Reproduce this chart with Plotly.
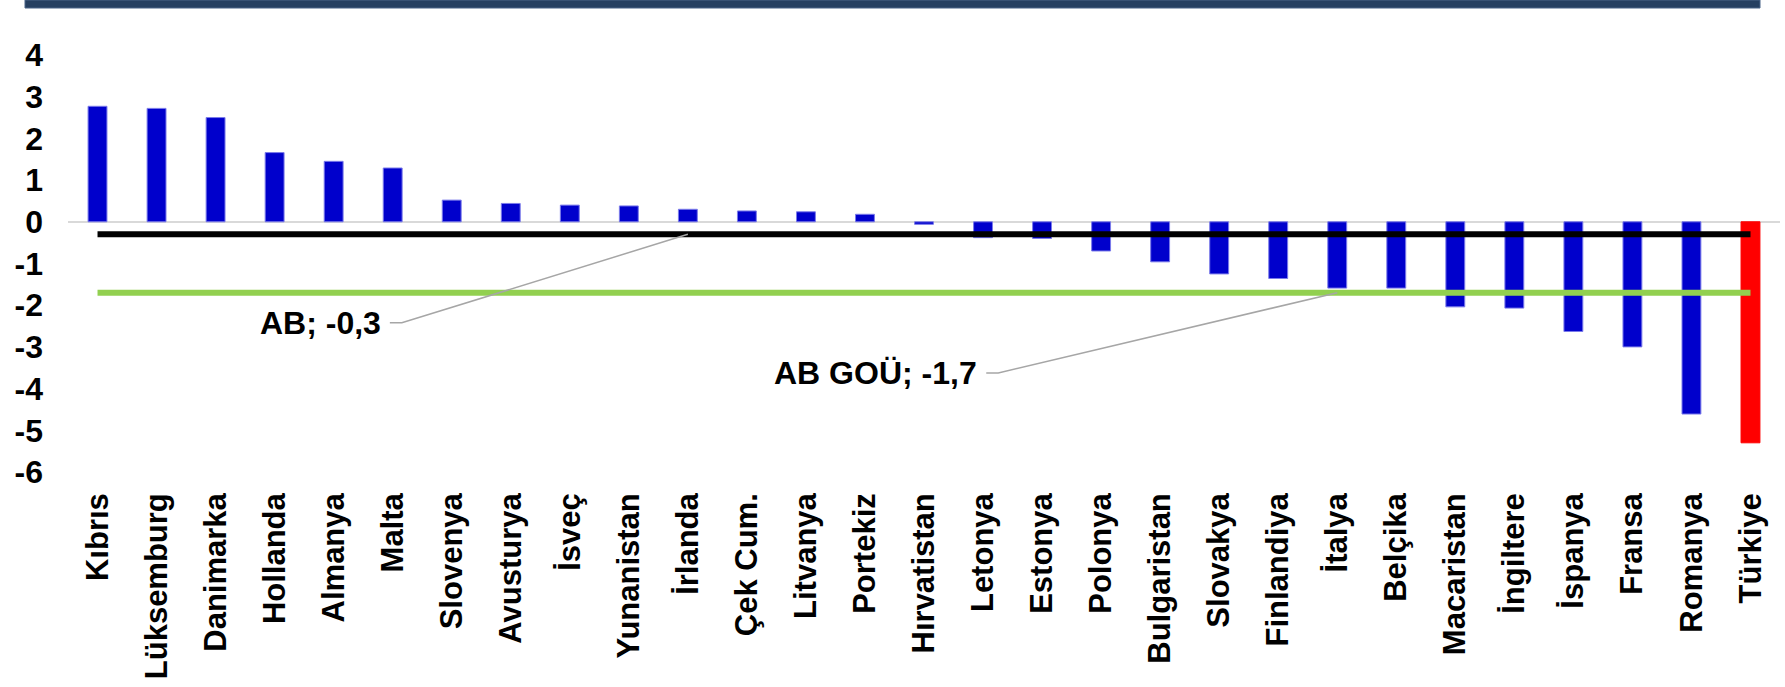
import plotly.graph_objects as go

# ---- data ----
countries = ["Kıbrıs", "Lüksemburg", "Danimarka", "Hollanda", "Almanya", "Malta",
             "Slovenya", "Avusturya", "İsveç", "Yunanistan", "İrlanda", "Çek Cum.",
             "Litvanya", "Portekiz", "Hırvatistan", "Letonya", "Estonya", "Polonya",
             "Bulgaristan", "Slovakya", "Finlandiya", "İtalya", "Belçika", "Macaristan",
             "İngiltere", "İspanya", "Fransa", "Romanya", "Türkiye"]
values = [2.77, 2.72, 2.50, 1.66, 1.45, 1.29,
          0.52, 0.44, 0.40, 0.38, 0.30, 0.26,
          0.24, 0.18, -0.06, -0.38, -0.40, -0.70,
          -0.96, -1.25, -1.36, -1.59, -1.59, -2.04,
          -2.07, -2.63, -3.00, -4.61, -5.30]
ab_value = -0.3        # AB
ab_gou_value = -1.7    # AB GOÜ
highlight = "Türkiye"
y_ticks = [4, 3, 2, 1, 0, -1, -2, -3, -4, -5, -6]

# ---- styling ----
W, H = 1785, 687
ML, MR, MT, MB = 68, 5, 55, 215
PW, PH = W - ML - MR, H - MT - MB
FONT = "Liberation Sans, Arial, sans-serif"
BLUE, RED = "#0000CC", "#FF0000"

bar_colors = [RED if c == highlight else BLUE for c in countries]
bar_lines = ["#FF0000" if c == highlight else "#7B7BEA" for c in countries]

fig = go.Figure()
fig.add_trace(go.Bar(x=countries, y=values, width=0.32,
                     marker=dict(color=bar_colors, line=dict(color=bar_lines, width=1)),
                     hoverinfo="x+y"))
fig.add_trace(go.Scatter(x=countries, y=[ab_value] * len(countries), mode="lines",
                         line=dict(color="#000000", width=6), name="AB"))
fig.add_trace(go.Scatter(x=countries, y=[ab_gou_value] * len(countries), mode="lines",
                         line=dict(color="#92D050", width=6), name="AB GOÜ"))

def px_to_paper_x(px):
    return (px - ML) / PW

def px_to_paper_y(py):
    return (H - MB - py) / PH

shapes = [
    # header band
    dict(type="rect", xref="paper", yref="paper",
         x0=px_to_paper_x(25), x1=px_to_paper_x(1760),
         y0=px_to_paper_y(8), y1=px_to_paper_y(0),
         fillcolor="#264061", line=dict(color="#4A6488", width=1), layer="above"),
    # leader lines (pixel offsets from the data point)
    dict(type="path", xref="x", yref="y", xsizemode="pixel", ysizemode="pixel",
         xanchor=countries.index("İrlanda"), yanchor=ab_value,
         path="M0,0 L-286,-88.5 L-298,-88.5",
         line=dict(color="#A6A6A6", width=1.5)),
    dict(type="path", xref="x", yref="y", xsizemode="pixel", ysizemode="pixel",
         xanchor=countries.index("İtalya"), yanchor=ab_gou_value,
         path="M0,0 L-339,-80.3 L-351,-80.3",
         line=dict(color="#A6A6A6", width=1.5)),
]

annotations = [
    dict(text="AB; " + f"{ab_value:.1f}".replace(".", ","), xref="paper", yref="paper",
         x=px_to_paper_x(383), y=px_to_paper_y(323), xanchor="right", yanchor="middle",
         showarrow=False, font=dict(family=FONT, size=32, color="#000", weight="bold")),
    dict(text="AB GOÜ; " + f"{ab_gou_value:.1f}".replace(".", ","), xref="paper", yref="paper",
         x=px_to_paper_x(979), y=px_to_paper_y(373), xanchor="right", yanchor="middle",
         showarrow=False, font=dict(family=FONT, size=32, color="#000", weight="bold")),
]

fig.update_layout(
    width=W, height=H,
    margin=dict(l=ML, r=MR, t=MT, b=MB, pad=0),
    plot_bgcolor="white", paper_bgcolor="white",
    showlegend=False, bargap=0.68,
    shapes=shapes, annotations=annotations,
    font=dict(family=FONT, color="#000"),
)
fig.update_xaxes(type="category", categoryorder="array", categoryarray=countries,
                 range=[-0.5, len(countries) - 0.5], tickangle=-90, ticks="",
                 showgrid=False, showline=False, zeroline=False,
                 tickfont=dict(family=FONT, size=31, color="#000", weight="bold"),
                 ticklabelstandoff=14)
fig.update_yaxes(range=[-6, 4], tickvals=y_ticks, ticktext=[str(v) for v in y_ticks],
                 ticks="", showgrid=False, showline=False,
                 zeroline=True, zerolinecolor="#D9D9D9", zerolinewidth=2,
                 tickfont=dict(family=FONT, size=32, color="#000", weight="bold"),
                 ticklabelstandoff=24)

fig.write_html("out.html", config={"displayModeBar": False},
               post_script="document.body.style.margin='0px';document.body.style.overflow='hidden';")
